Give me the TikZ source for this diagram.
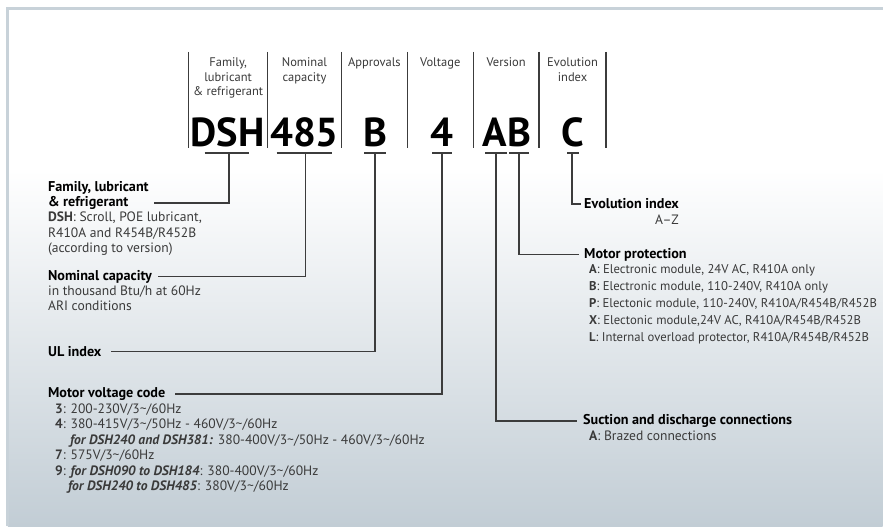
\documentclass[tikz,border=0pt]{standalone}
\usepackage{fontspec}
\setmainfont{PT Sans}
\usetikzlibrary{calc,positioning}

\definecolor{framegray}{HTML}{C8D2D9}
\definecolor{bgblue}{HTML}{C2CDD5}
\definecolor{inkgray}{HTML}{3A3A3A}
\definecolor{linegray}{HTML}{3C3C3C}

\tikzset{
  code/.style={font=\fontsize{40.5}{40}\selectfont\bfseries, anchor=base, inner sep=0pt},
  colhead/.style={font=\fontsize{12.5}{14.5}\selectfont, align=center, anchor=north, text=inkgray, inner sep=0pt},
  keyhead/.style={font=\fontsize{14.2}{15.5}\selectfont\bfseries, anchor=west, inner sep=0pt},
  keytext/.style={font=\fontsize{13.6}{15.5}\selectfont, align=left, anchor=north west, text=inkgray, inner sep=0pt},
  bracket/.style={line width=1.8pt, draw=linegray},
  lead/.style={line width=1.8pt, draw=linegray},
  sep/.style={line width=1.2pt, draw=linegray}
}

\begin{document}
\begin{tikzpicture}[x=1pt,y=-1pt]
        % Background and frame
        \fill[white] (0,0) rectangle (884,527);
        \shade[top color=white, bottom color=bgblue] (8,170) rectangle (884,527);
        \draw[framegray, line width=3pt] (8,527) -- (8,9) -- (884,9);
        \useasboundingbox (0,0) rectangle (884,527);

        % Column separators
        \foreach \x in {189,268,342,408,474,540,607}
            \draw[sep] (\x,52) -- (\x,148);

        % Column heads
        \node[colhead] at (228.5,58) {Family,\\lubricant\\\& refrigerant};
        \node[colhead] at (305,58) {Nominal\\capacity};
        \node[colhead] at (375,58) {Approvals};
        \node[colhead] at (441,58) {Voltage};
        \node[colhead] at (507,58) {Version};
        \node[colhead] at (573.5,58) {Evolution\\index};

        % Code
        \node[code] (dsh) at (228,147) {DSH};
        \node[code] (cap) at (305,147) {485};
        \node[code] (appr) at (376,147) {B};
        \node[code] (volt) at (443,147) {4};
        \node[code] (vers) at (508,147) {AB};
        \node[code] (evol) at (574,147) {C};

        % Brackets under the code
        \draw[bracket] (205,153) -- (249,153);
        \draw[bracket] (277,153) -- (333,153);
        \draw[bracket] (365,153) -- (387,153);
        \draw[bracket] (433,153) -- (453,153);
        \draw[bracket] (486,153) -- (508,153);
        \draw[bracket] (510,153) -- (530,153);
        \draw[bracket] (568,153) -- (580,153);
        \coordinate (dshm) at (229,153);
        \coordinate (capm) at (306,153);
        \coordinate (apprm) at (376,153);
        \coordinate (voltm) at (443,153);
        \coordinate (versa) at (497,153);
        \coordinate (versb) at (520,153);
        \coordinate (evolm) at (573,153);

        % Left keys
        \node[keyhead] (fam) at (48,188) {Family, lubricant};
        \node[keyhead] (famb) at (48,203) {\& refrigerant};
        \node[keytext] at (48,212) {\textbf{DSH}: Scroll, POE lubricant,\\R410A and R454B/R452B\\(according to version)};

        \node[keyhead] (nomc) at (48,277) {Nominal capacity};
        \node[keytext] at (48,286) {in thousand Btu/h at 60Hz\\ARI conditions};

        \node[keyhead] (ulidx) at (48,352) {UL index};

        \node[keyhead] (mvolt) at (48,395) {Motor voltage code};
        \node[keytext] at (55,404) {\textbf{3}: 200-230V/3\textasciitilde/60Hz\\
            \textbf{4}: 380-415V/3\textasciitilde/50Hz - 460V/3\textasciitilde/60Hz\\
            \hspace*{15pt}\textbf{\textit{for DSH240 and DSH381:}} 380-400V/3\textasciitilde/50Hz - 460V/3\textasciitilde/60Hz\\
            \textbf{7}: 575V/3\textasciitilde/60Hz\\
            \textbf{9}: \textbf{\textit{for DSH090 to DSH184}}: 380-400V/3\textasciitilde/60Hz\\
            \hspace*{13pt}\textbf{\textit{for DSH240 to DSH485}}: 380V/3\textasciitilde/60Hz};

        % Right keys
        \node[keyhead] (evo) at (585,204) {Evolution index};
        \node[keytext, anchor=west] at (656,220) {A--Z};

        \node[keyhead] (mprot) at (585,255) {Motor protection};
        \node[keytext, font=\fontsize{12.7}{17}\selectfont] at (590,265) {\textbf{A}: Electronic module, 24V AC, R410A only\\
            \textbf{B}: Electronic module, 110-240V, R410A only\\
            \textbf{P}: Electonic module, 110-240V, R410A/R454B/R452B\\
            \textbf{X}: Electonic module,24V AC, R410A/R454B/R452B\\
            \textbf{L}: Internal overload protector, R410A/R454B/R452B};

        \node[keyhead] (suct) at (584,422) {Suction and discharge connections};
        \node[keytext] at (590,431) {\textbf{A}: Brazed connections};

        % Leaders
        \draw[lead] (dshm) |- ($(famb.east -| fam.east)+(5,0)$);
        \draw[lead, shorten >=6pt] (capm) |- (nomc.east);
        \draw[lead, shorten >=9pt] (apprm) |- (ulidx.east);
        \draw[lead, shorten >=10pt] (voltm) |- (mvolt.east);
        \draw[lead, shorten >=6pt] (versa) |- (suct.west);
        \draw[lead, shorten >=5pt] (versb) |- (mprot.west);
        \draw[lead, shorten >=3pt] (evolm) |- (evo.west);
    \end{tikzpicture}
\end{document}
